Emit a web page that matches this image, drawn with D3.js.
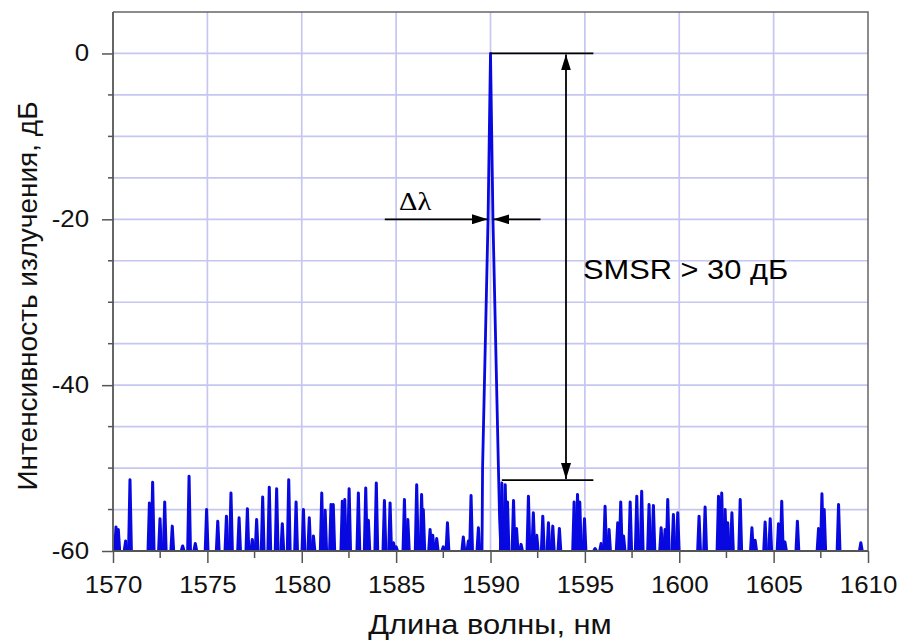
<!DOCTYPE html>
<html>
<head>
<meta charset="utf-8">
<script src="https://cdn.jsdelivr.net/npm/d3@7"></script>
<style>
  body { margin: 0; background: #fff; }
  svg { display: block; font-family: "Liberation Sans", Arial, sans-serif; }
</style>
</head>
<body>
<svg width="900" height="641"></svg>
<script>
// noise spikes: [wavelength nm, level dB]
const spikes = [
  [1570.16,-57.1],[1570.28,-57.4],[1570.67,-58.8],[1570.90,-51.4],[1571.93,-54.2],[1572.10,-51.7],
  [1572.49,-56.1],[1572.74,-54.1],[1573.14,-57.0],[1573.69,-59.4],[1574.03,-51.0],[1574.36,-59.1],
  [1574.96,-55.0],[1575.55,-56.4],[1576.01,-55.8],[1576.25,-53.0],[1576.68,-56.0],[1577.12,-54.9],
  [1577.38,-58.6],[1577.61,-56.2],[1577.93,-53.5],[1578.28,-52.3],[1578.67,-52.5],[1578.97,-56.7],
  [1579.31,-51.4],[1579.70,-54.1],[1580.09,-55.0],[1580.40,-56.0],[1580.62,-58.2],[1581.06,-53.0],
  [1581.24,-55.1],[1581.55,-54.4],[1581.67,-54.4],[1582.15,-54.0],[1582.28,-53.8],[1582.51,-52.5],
  [1583.00,-53.0],[1583.39,-52.4],[1583.53,-56.3],[1583.95,-51.8],[1584.38,-53.9],[1584.68,-54.2],
  [1584.86,-59.0],[1585.00,-59.5],[1585.44,-53.8],[1585.62,-56.2],[1586.09,-52.0],[1586.35,-53.2],
  [1586.44,-55.0],[1586.80,-57.4],[1586.94,-58.1],[1587.15,-58.5],[1587.50,-59.5],[1587.72,-56.6],
  [1588.56,-58.3],[1588.83,-58.8],[1588.97,-53.3],[1589.36,-57.2],
  [1590.60,-51.8],[1590.78,-52.0],[1590.90,-54.1],[1591.22,-53.9],[1591.38,-57.3],[1591.62,-59.2],
  [1592.01,-53.4],[1592.27,-55.4],[1592.45,-58.1],[1592.77,-55.8],[1593.07,-56.6],[1593.30,-57.0],
  [1593.65,-57.3],[1594.43,-54.1],[1594.61,-53.2],[1594.73,-54.1],[1594.98,-56.1],[1595.54,-59.7],
  [1595.86,-59.1],[1596.07,-54.6],[1596.28,-57.4],[1596.74,-56.6],[1596.90,-54.1],[1597.05,-58.2],
  [1597.40,-54.1],[1597.75,-53.4],[1598.01,-52.8],[1598.40,-54.4],[1598.63,-54.5],[1599.04,-57.2],
  [1599.25,-57.4],[1599.39,-53.8],[1599.69,-55.6],[1599.92,-55.4],[1601.05,-55.8],[1601.37,-54.7],
  [1602.08,-53.4],[1602.25,-53.0],[1602.43,-55.0],[1602.57,-56.6],[1602.79,-55.4],[1603.23,-53.8],
  [1603.85,-57.2],[1604.02,-58.7],[1604.55,-56.5],[1604.82,-56.1],[1605.26,-56.7],[1605.43,-54.0],
  [1605.60,-58.9],[1606.26,-56.4],[1607.38,-57.3],[1607.56,-53.1],[1607.68,-55.0],[1608.44,-54.4],
  [1609.62,-59.0]
];

// main lasing mode
const peak = [
  [1589.55,-60],[1589.58,-50],[1589.87,-20],[1590.0,0],[1590.13,-20],[1590.42,-50],[1590.48,-56],[1590.55,-60]
];

const xTicks = [1570, 1575, 1580, 1585, 1590, 1595, 1600, 1605, 1610];
const yTicks = [0, -20, -40, -60];

// annotation values
const smsrTop = 0, smsrBottom = -51.45, smsrAt = 1594.0;
const smsrTopFrom = 1590.0, smsrBotFrom = 1590.6, smsrLineTo = 1595.45;
const dlLevel = -20, dlLeft = [1584.4, 1589.86], dlRight = [1592.65, 1590.15];
const smsrLabel = "SMSR > 30 дБ";

const svg = d3.select("svg");
const x = d3.scaleLinear().domain([1570, 1610]).range([113, 868]);
const y = d3.scaleLinear().domain([-60, 5]).range([551, 12]);

const gridColor = "#c6c6f0";
const axisColor = "#555";
const wide = 1.1; // the source text is a bit wider than Liberation Sans

function stretch(sel) {
  sel.each(function () {
    const w = this.getComputedTextLength();
    d3.select(this).attr("textLength", w * wide).attr("lengthAdjust", "spacingAndGlyphs");
  });
}

// grid
svg.append("g")
  .selectAll("line")
  .data(d3.range(1575, 1610, 5)).enter()
  .append("line")
  .attr("x1", d => x(d)).attr("x2", d => x(d))
  .attr("y1", y(5)).attr("y2", y(-60))
  .attr("stroke", gridColor).attr("stroke-width", 1.7);
svg.append("g")
  .selectAll("line")
  .data(d3.range(-55, 5, 5)).enter()
  .append("line")
  .attr("x1", x(1570)).attr("x2", x(1610))
  .attr("y1", d => y(d)).attr("y2", d => y(d))
  .attr("stroke", gridColor).attr("stroke-width", 1.7);

// frame (top and right)
svg.append("path")
  .attr("d", `M${x(1570)},${y(5)}H${x(1610)}V${y(-60)}`)
  .attr("fill", "none").attr("stroke", "#666").attr("stroke-width", 1.5);

// spectrum
const blue = "#0808e0";
svg.append("g")
  .selectAll("path")
  .data(spikes).enter()
  .append("path")
  .attr("d", d => `M${x(d[0]) - 1.4},${y(-60)}L${x(d[0])},${y(d[1])}L${x(d[0]) + 1.4},${y(-60)}`)
  .attr("fill", blue).attr("stroke", blue).attr("stroke-width", 3)
  .attr("stroke-linejoin", "round");
svg.append("path")
  .datum(peak)
  .attr("d", d3.line().x(d => x(d[0])).y(d => y(d[1])))
  .attr("fill", "none").attr("stroke", blue).attr("stroke-width", 2.8)
  .attr("stroke-linejoin", "round");

// axes
const xAxis = svg.append("g")
  .attr("transform", `translate(0,${y(-60)})`)
  .call(d3.axisBottom(x).tickValues(xTicks).tickFormat(d3.format("d")).tickSize(12).tickPadding(13));
xAxis.append("g").selectAll("line")
  .data(d3.range(1572.5, 1610, 5)).enter()
  .append("line")
  .attr("x1", d => x(d)).attr("x2", d => x(d))
  .attr("y1", 0).attr("y2", 7);
const yAxis = svg.append("g")
  .attr("transform", `translate(${x(1570)},0)`)
  .call(d3.axisLeft(y).tickValues(yTicks).tickFormat(d => String(d)).tickSize(11).tickPadding(13));
yAxis.append("g").selectAll("line")
  .data(d3.range(-55, 5, 5).filter(d => d % 20 !== 0)).enter()
  .append("line")
  .attr("x1", 0).attr("x2", -5)
  .attr("y1", d => y(d)).attr("y2", d => y(d));
[xAxis, yAxis].forEach(a => {
  a.selectAll("path.domain").attr("stroke", axisColor).attr("stroke-width", 1.8);
  a.selectAll("line").attr("stroke", axisColor).attr("stroke-width", 1.5);
  a.selectAll("text").attr("fill", "#111").attr("font-size", 23.5)
    .attr("font-family", "'Liberation Sans', Arial, sans-serif")
    .call(stretch);
});
xAxis.select("path.domain").attr("d", `M${x(1570)},0H${x(1610)}`);
yAxis.select("path.domain").attr("d", `M0,${y(-60)}V${y(5)}`);

// axis titles
svg.append("text")
  .attr("x", 490).attr("y", 634)
  .attr("text-anchor", "middle").attr("font-size", 28).attr("fill", "#111")
  .text("Длина волны, нм")
  .call(stretch);
svg.append("text")
  .attr("transform", `translate(37,296) rotate(-90)`)
  .attr("text-anchor", "middle").attr("font-size", 28).attr("fill", "#111")
  .text("Интенсивность излучения, дБ");

// annotations
const defs = svg.append("defs");
defs.append("marker")
  .attr("id", "arrow").attr("viewBox", "0 0 16 10")
  .attr("refX", 16).attr("refY", 5)
  .attr("markerWidth", 16).attr("markerHeight", 10)
  .attr("markerUnits", "userSpaceOnUse")
  .attr("orient", "auto-start-reverse")
  .append("path").attr("d", "M0,0L16,5L0,10Z").attr("fill", "#000");

const ann = svg.append("g").attr("stroke", "#000").attr("stroke-width", 1.8);
ann.append("line")
  .attr("x1", x(smsrTopFrom)).attr("x2", x(smsrLineTo))
  .attr("y1", y(smsrTop)).attr("y2", y(smsrTop));
ann.append("line")
  .attr("x1", x(smsrBotFrom)).attr("x2", x(smsrLineTo))
  .attr("y1", y(smsrBottom)).attr("y2", y(smsrBottom));
ann.append("line")
  .attr("x1", x(smsrAt)).attr("x2", x(smsrAt))
  .attr("y1", y(smsrTop) + 1).attr("y2", y(smsrBottom) - 1)
  .attr("marker-start", "url(#arrow)").attr("marker-end", "url(#arrow)");
ann.append("line")
  .attr("x1", x(dlLeft[0])).attr("x2", x(dlLeft[1]))
  .attr("y1", y(dlLevel)).attr("y2", y(dlLevel))
  .attr("marker-end", "url(#arrow)");
ann.append("line")
  .attr("x1", x(dlRight[0])).attr("x2", x(dlRight[1]))
  .attr("y1", y(dlLevel)).attr("y2", y(dlLevel))
  .attr("marker-end", "url(#arrow)");

svg.append("text")
  .attr("x", 583).attr("y", 279)
  .attr("font-size", 28).attr("fill", "#000")
  .text(smsrLabel)
  .call(stretch);
svg.append("text")
  .attr("x", 399).attr("y", 210)
  .attr("font-family", "'Liberation Serif', 'Times New Roman', serif")
  .attr("font-size", 26).attr("fill", "#000")
  .text("Δλ")
  .call(stretch);
</script>
</body>
</html>
